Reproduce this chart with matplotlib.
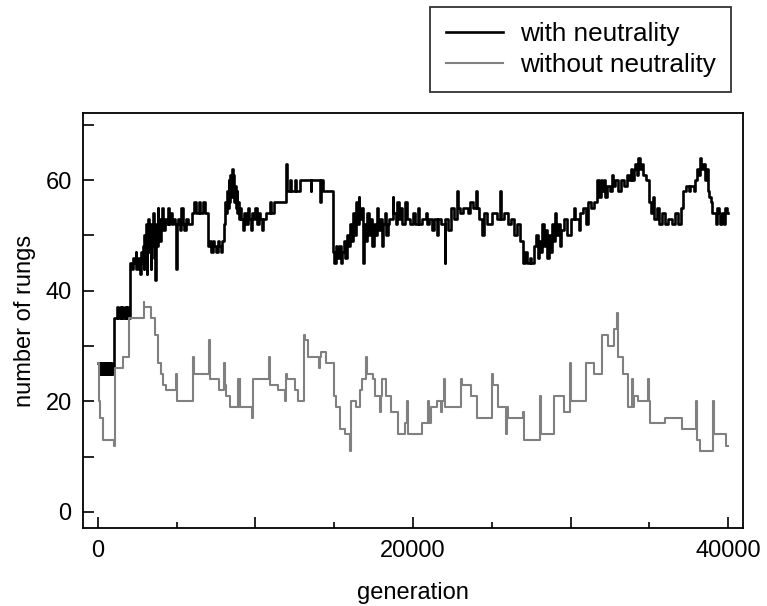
import numpy as np
import matplotlib
matplotlib.use("Agg")
import matplotlib.pyplot as plt
from matplotlib.ticker import MultipleLocator, FuncFormatter

plt.rcParams['font.family'] = ['Liberation Sans', 'DejaVu Sans']

# with neutrality: (generation, number of rungs), step changes
with_gen = [0, 100, 150, 200, 260, 320, 380, 440, 500, 560, 620, 680, 740, 800, 860, 920,
            1050, 1200, 1260, 1400, 1450, 1550, 1600, 1700, 1760, 1850, 1900,
            2050, 2150, 2250, 2300, 2400, 2450, 2550, 2600, 2700, 2750, 2800, 2850, 2900, 2950,
            3000, 3050, 3100, 3150, 3200, 3250, 3300, 3350, 3400, 3450, 3500, 3550, 3600, 3650,
            3700, 3750, 3800, 3850, 3900, 3950, 4000, 4100, 4150, 4250, 4350, 4450, 4500, 4600,
            4700, 4800, 4900, 4950, 5000, 5100, 5200, 5300, 5400, 5500, 5600, 5700,
            6000, 6100, 6200, 6400, 6500, 6700, 6800,
            7000, 7100, 7200, 7300, 7400, 7500, 7600, 7700, 7800, 7900,
            8000, 8100, 8150, 8200, 8250, 8300, 8350, 8400, 8450, 8500, 8550, 8600, 8650, 8700,
            8750, 8800, 8850, 8900, 8950, 9000, 9100, 9200, 9300, 9400, 9500, 9600, 9700, 9800,
            9900, 10000, 10100, 10200, 10300, 10400, 10500, 10700, 10900, 11000, 11200, 11950,
            12000, 12200, 12250, 12500, 12550, 12800, 12900, 13500, 13550, 14100, 14150, 14300,
            14900, 15000, 15100, 15200, 15300, 15400, 15500, 15600, 15700, 15800, 15900, 16000,
            16100, 16200, 16300, 16400, 16500, 16550, 16600, 16700, 16800, 16850, 16900, 17000,
            17100, 17200, 17300, 17400, 17500, 17600, 17700, 17800, 17900, 18000, 18100, 18200,
            18300, 18400, 18500, 18700, 18750, 18900, 19000, 19100, 19200, 19300, 19500, 19600,
            19800, 20000, 20100, 20300, 20400, 20600, 20800, 20900, 21000, 21200, 21300, 21500,
            21600, 21800, 22000, 22050, 22200, 22400, 22600, 22800, 22850, 23000, 23200, 23500,
            23600, 23800, 24000, 24050, 24200, 24400, 24500, 24700, 25000, 25300, 25500, 25550,
            25800, 26000, 26200, 26400, 26600, 26800, 27000, 27100, 27200, 27400, 27500, 27700,
            27800, 27900, 28000, 28100, 28200, 28300, 28400, 28500, 28600, 28700, 28800, 28900,
            29000, 29100, 29200, 29300, 29400, 29600, 29800, 30000, 30200, 30300, 30500, 30600,
            30800, 31000, 31100, 31300, 31500, 31700, 31800, 31900, 32000, 32100, 32200, 32300,
            32500, 32600, 32700, 32800, 33000, 33200, 33400, 33600, 33700, 33800, 33900, 34000,
            34100, 34200, 34300, 34400, 34500, 34600, 34800, 35000, 35100, 35200, 35300, 35500,
            35600, 35800, 36000, 36200, 36400, 36600, 36800, 37000, 37100, 37300, 37500, 37600,
            37800, 37900, 38000, 38100, 38200, 38300, 38400, 38500, 38600, 38700, 38800, 38900,
            39000, 39200, 39300, 39400, 39500, 39600, 39700, 39800, 39900, 40000]
with_val = [27, 25, 27, 25, 27, 25, 27, 25, 27, 25, 27, 25, 27, 25, 27, 25,
            35, 37, 35, 37, 35, 37, 35, 37, 35, 37, 35,
            45, 44, 46, 45, 47, 44, 46, 45, 43, 47, 45, 48, 44, 50,
            46, 52, 43, 49, 53, 47, 51, 44, 52, 48, 54, 46, 50, 42,
            52, 48, 55, 50, 53, 49, 52, 55, 51, 53, 52, 55, 52, 54,
            52, 53, 52, 44, 52, 53, 51, 55, 52, 51, 53, 52,
            54, 56, 54, 56, 54, 56, 54,
            48, 49, 47, 49, 48, 47, 49, 48, 47, 49,
            52, 56, 54, 58, 55, 60, 56, 61, 57, 62, 58, 61, 56, 59,
            55, 58, 54, 56, 53, 55, 53, 51, 54, 52, 55, 53, 51, 54,
            53, 55, 52, 54, 53, 51, 53, 54, 56, 54, 56, 63,
            58, 60, 58, 60, 58, 60, 60, 58, 60, 56, 60, 58,
            47, 45, 48, 46, 48, 45, 47, 49, 46, 50, 48, 52,
            49, 54, 50, 56, 52, 57, 53, 55, 50, 45, 52, 49,
            54, 50, 53, 48, 52, 50, 55, 51, 53, 48, 52, 54,
            50, 52, 53, 57, 54, 52, 56, 53, 55, 52, 56, 53,
            52, 54, 52, 55, 52, 53, 54, 52, 53, 51, 53, 50,
            53, 52, 45, 53, 51, 55, 53, 58, 55, 54, 55, 54,
            56, 55, 58, 55, 53, 50, 54, 52, 54, 53, 58, 53,
            54, 52, 53, 50, 52, 49, 45, 47, 45, 46, 45, 48,
            50, 46, 49, 47, 52, 48, 51, 46, 50, 47, 52, 49,
            54, 50, 52, 48, 51, 53, 50, 53, 55, 53, 51, 54,
            55, 52, 56, 55, 56, 60, 57, 60, 58, 60, 57, 59,
            58, 61, 59, 60, 58, 60, 59, 61, 60, 62, 60, 62,
            63, 61, 64, 62, 63, 61, 60, 56, 54, 57, 53, 55,
            52, 54, 52, 53, 52, 54, 52, 55, 58, 59, 58, 59,
            58, 60, 62, 61, 64, 62, 63, 60, 62, 58, 57, 56,
            54, 52, 55, 54, 52, 54, 52, 55, 54, 54]

# without neutrality
without_gen = [0, 60, 130, 300, 1000, 1060, 1100, 1600, 2000, 2900, 2950, 3100, 3400, 3650,
               3800, 4000, 4150, 4300, 4950, 5000, 6030, 6080, 7050, 7100, 7370, 7680, 8000,
               8050, 8150, 8380, 8900, 8950, 9000, 9050, 9800, 9850, 10870, 10930, 11430,
               11900, 11950, 12000, 12150, 12480, 12700, 13080, 13170, 13340, 14050, 14100,
               14160, 14480, 14990, 15140, 15370, 15690, 16000, 16070, 16350, 16640, 16790,
               17040, 17100, 17460, 17570, 17900, 17950, 18030, 18300, 18620, 19050, 19470,
               19600, 19650, 19890, 20570, 20980, 21030, 21150, 21530, 21790, 21850, 21970,
               22020, 23050, 23100, 23700, 24070, 25000, 25060, 25380, 25910, 25960, 26020,
               26980, 27030, 27050, 28070, 28120, 28960, 29590, 29970, 30020, 31000, 31500,
               31960, 32380, 32760, 32970, 33020, 33330, 33650, 33900, 33950, 34050, 34300,
               34930, 34980, 35050, 36000, 37080, 37980, 38030, 38230, 39050, 39100, 39830,
               40000]
without_val = [27, 20, 17, 13, 12, 26, 26, 28, 35, 38, 37, 37, 35, 32,
               27, 25, 23, 22, 25, 20, 28, 25, 31, 24, 24, 22, 27,
               23, 21, 19, 24, 19, 24, 19, 17, 24, 28, 23, 22,
               20, 25, 24, 24, 22, 20, 32, 31, 28, 26, 28,
               29, 27, 21, 19, 15, 14, 11, 20, 19, 22, 24,
               28, 25, 24, 21, 18, 21, 24, 21, 18, 14, 16,
               20, 14, 14, 16, 20, 16, 19, 20, 18, 20, 24,
               19, 24, 23, 21, 17, 25, 23, 19, 14, 19, 17,
               18, 17, 13, 21, 14, 21, 18, 27, 20, 27, 25,
               32, 30, 33, 36, 28, 25, 19, 24, 19, 21, 20,
               24, 20, 16, 17, 15, 20, 13, 11, 20, 14, 12,
               12]

fig = plt.figure(figsize=(7.67, 6.06), dpi=100)
ax = fig.add_axes([0.108, 0.128, 0.861, 0.686])

ax.step(with_gen, with_val, where='post', color='black', lw=1.9, label='with neutrality')
ax.step(without_gen, without_val, where='post', color='#808080', lw=1.5,
        label='without neutrality')

ax.set_xlim(-950, 40950)
ax.set_ylim(-3, 72.2)

ax.xaxis.set_major_locator(MultipleLocator(10000))
ax.xaxis.set_minor_locator(MultipleLocator(5000))
ax.xaxis.set_major_formatter(FuncFormatter(lambda v, p: f"{int(v)}" if v % 20000 == 0 else ""))
ax.yaxis.set_major_locator(MultipleLocator(10))
ax.yaxis.set_major_formatter(FuncFormatter(lambda v, p: f"{int(v)}" if v % 20 == 0 else ""))

ax.tick_params(which='both', direction='in', labelsize=17, width=1.2)
ax.tick_params(which='major', length=8, pad=8)
ax.tick_params(which='minor', length=4)
for s in ax.spines.values():
    s.set_linewidth(1.3)

ax.set_xlabel('generation', fontsize=17, labelpad=15)
ax.set_ylabel('number of rungs', fontsize=17, labelpad=7)

leg = fig.legend(loc='upper right', bbox_to_anchor=(731 / 767, 1 - 7 / 606),
                 fontsize=18.8, frameon=True, fancybox=False, edgecolor='black',
                 handlelength=2.2, handletextpad=0.65, borderpad=0.58, labelspacing=0.25,
                 borderaxespad=0)
leg.get_frame().set_linewidth(1.3)

fig.savefig('out.png', dpi=100)
